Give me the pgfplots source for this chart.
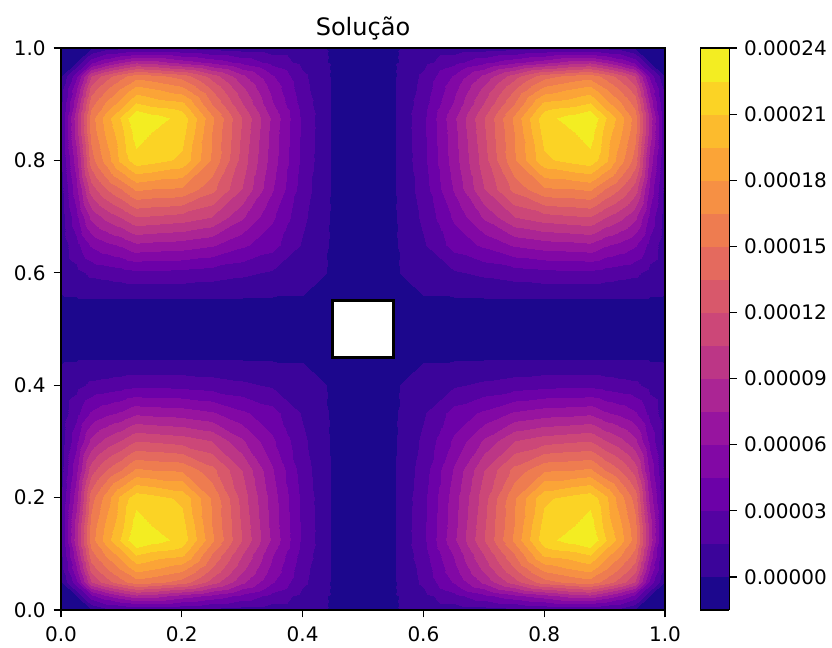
\documentclass[border=0pt]{standalone}
\usepackage{pgfplots}
\usepackage{pgfplotstable}
\usepackage{fontspec}
\setmainfont{DejaVu Sans}
\pgfplotsset{compat=1.18}
\definecolor{bzero}{RGB}{28,7,141}
\pgfplotstableread{
x y z
0 0 -10e-6
0.025 0 -4e-6
0.05 0 0e-6
0.075 0 10e-6
0.1 0 12e-6
0.125 0 15e-6
0.15 0 15e-6
0.2 0 13e-6
0.25 0 9e-6
0.3 0 7e-6
0.35 0 6e-6
0.4 0 5e-6
0.45 0 -2e-6
0 0.025 -4e-6
0.025 0.025 0e-6
0.05 0.025 40e-6
0.075 0.025 58e-6
0.1 0.025 72e-6
0.125 0.025 85e-6
0.15 0.025 82e-6
0.2 0.025 68e-6
0.25 0.025 55e-6
0.3 0.025 40e-6
0.35 0.025 25e-6
0.4 0.025 10e-6
0.45 0.025 -2e-6
0 0.05 0e-6
0.025 0.05 40e-6
0.05 0.05 105e-6
0.075 0.05 128e-6
0.1 0.05 145e-6
0.125 0.05 158e-6
0.15 0.05 155e-6
0.2 0.05 144e-6
0.25 0.05 113e-6
0.3 0.05 79e-6
0.35 0.05 47e-6
0.4 0.05 18e-6
0.45 0.05 -2e-6
0 0.075 10e-6
0.025 0.075 58e-6
0.05 0.075 128e-6
0.075 0.075 150e-6
0.1 0.075 168e-6
0.125 0.075 188e-6
0.15 0.075 183e-6
0.2 0.075 172e-6
0.25 0.075 135e-6
0.3 0.075 95e-6
0.35 0.075 56e-6
0.4 0.075 20e-6
0.45 0.075 -2e-6
0 0.1 12e-6
0.025 0.1 72e-6
0.05 0.1 145e-6
0.075 0.1 168e-6
0.1 0.1 188e-6
0.125 0.1 212e-6
0.15 0.1 205e-6
0.2 0.1 200e-6
0.25 0.1 150e-6
0.3 0.1 106e-6
0.35 0.1 62e-6
0.4 0.1 23e-6
0.45 0.1 -2e-6
0 0.125 15e-6
0.025 0.125 85e-6
0.05 0.125 158e-6
0.075 0.125 188e-6
0.1 0.125 212e-6
0.125 0.125 240e-6
0.15 0.125 232e-6
0.2 0.125 220e-6
0.25 0.125 168e-6
0.3 0.125 120e-6
0.35 0.125 72e-6
0.4 0.125 26e-6
0.45 0.125 -2e-6
0 0.15 15e-6
0.025 0.15 82e-6
0.05 0.15 155e-6
0.075 0.15 183e-6
0.1 0.15 205e-6
0.125 0.15 232e-6
0.15 0.15 225e-6
0.2 0.15 216e-6
0.25 0.15 165e-6
0.3 0.15 118e-6
0.35 0.15 70e-6
0.4 0.15 26e-6
0.45 0.15 -2e-6
0 0.2 13e-6
0.025 0.2 68e-6
0.05 0.2 144e-6
0.075 0.2 172e-6
0.1 0.2 200e-6
0.125 0.2 220e-6
0.15 0.2 216e-6
0.2 0.2 207e-6
0.25 0.2 163e-6
0.3 0.2 114e-6
0.35 0.2 68e-6
0.4 0.2 25e-6
0.45 0.2 -2e-6
0 0.25 9e-6
0.025 0.25 55e-6
0.05 0.25 113e-6
0.075 0.25 135e-6
0.1 0.25 150e-6
0.125 0.25 168e-6
0.15 0.25 165e-6
0.2 0.25 163e-6
0.25 0.25 140e-6
0.3 0.25 105e-6
0.35 0.25 62e-6
0.4 0.25 22e-6
0.45 0.25 -2e-6
0 0.3 7e-6
0.025 0.3 40e-6
0.05 0.3 79e-6
0.075 0.3 95e-6
0.1 0.3 106e-6
0.125 0.3 120e-6
0.15 0.3 118e-6
0.2 0.3 114e-6
0.25 0.3 105e-6
0.3 0.3 78e-6
0.35 0.3 48e-6
0.4 0.3 18e-6
0.45 0.3 -2e-6
0 0.35 6e-6
0.025 0.35 25e-6
0.05 0.35 47e-6
0.075 0.35 56e-6
0.1 0.35 62e-6
0.125 0.35 72e-6
0.15 0.35 70e-6
0.2 0.35 68e-6
0.25 0.35 62e-6
0.3 0.35 48e-6
0.35 0.35 36e-6
0.4 0.35 13e-6
0.45 0.35 -2e-6
0 0.4 5e-6
0.025 0.4 10e-6
0.05 0.4 18e-6
0.075 0.4 20e-6
0.1 0.4 23e-6
0.125 0.4 26e-6
0.15 0.4 26e-6
0.2 0.4 25e-6
0.25 0.4 22e-6
0.3 0.4 18e-6
0.35 0.4 13e-6
0.4 0.4 8e-6
0.45 0.4 -2e-6
0 0.45 -2e-6
0.025 0.45 -2e-6
0.05 0.45 -2e-6
0.075 0.45 -2e-6
0.1 0.45 -2e-6
0.125 0.45 -2e-6
0.15 0.45 -2e-6
0.2 0.45 -2e-6
0.25 0.45 -2e-6
0.3 0.45 -2e-6
0.35 0.45 -2e-6
0.4 0.45 -2e-6
0.45 0.45 -2e-6
}\Q
\begin{document}
\begin{tikzpicture}
\useasboundingbox (0,0) rectangle (624pt,485.25pt);
\begin{axis}[
  at={(45.75pt,27.75pt)}, anchor=south west,
  scale only axis, width=453pt, height=421.5pt,
  xmin=0, xmax=1, ymin=0, ymax=1,
  enlargelimits=false,
  axis background/.style={fill=bzero},
  axis line style={line width=0.87pt},
  tick style={line width=0.87pt, black},
  major tick length=5.5pt,
  tick align=outside, xtick pos=bottom, ytick pos=left,
  xtick={0,0.2,0.4,0.6,0.8,1}, xticklabels={0.0,0.2,0.4,0.6,0.8,1.0},
  ytick={0,0.2,0.4,0.6,0.8,1}, yticklabels={0.0,0.2,0.4,0.6,0.8,1.0},
  tick label style={font=\fontsize{15}{18}\selectfont},
  xticklabel style={yshift=-3.5pt},
  yticklabel style={xshift=-2.5pt},
  title={Solução},
  title style={font=\fontsize{18}{22}\selectfont, yshift=-4pt},
  axis on top,
  point meta min=-0.000015, point meta max=0.00024,
  colormap={plasmabands}{rgb255=(28,7,141) rgb255=(59,4,154) rgb255=(84,2,162) rgb255=(108,1,168) rgb255=(130,8,165) rgb255=(151,20,159) rgb255=(171,37,148) rgb255=(188,54,134) rgb255=(204,71,120) rgb255=(216,88,107) rgb255=(228,106,94) rgb255=(238,124,80) rgb255=(246,144,68) rgb255=(251,164,55) rgb255=(252,187,45) rgb255=(251,211,37) rgb255=(243,237,34)},
  colormap access=piecewise constant,
  colorbar,
  colorbar style={
    at={(parent axis.north east)}, anchor=north west, xshift=18pt,
    width=21.75pt, height=421.5pt,
    ytick={0,0.00003,0.00006,0.00009,0.00012,0.00015,0.00018,0.00021,0.00024},
    yticklabels={0.00000,0.00003,0.00006,0.00009,0.00012,0.00015,0.00018,0.00021,0.00024},
    scaled y ticks=false,
    tick label style={font=\fontsize{15}{18}\selectfont},
    yticklabel style={xshift=2pt},
    axis line style={line width=0.87pt},
    tick style={line width=0.87pt, black},
    major tick length=5.5pt,
    tick align=outside, ytick pos=right, yticklabel pos=right,
  },
]
\addplot[surf, shader=interp, mesh/cols=13, point meta=\thisrow{z}] table[x=x, y=y] {\Q};
\addplot[surf, shader=interp, mesh/cols=13, point meta=\thisrow{z}] table[x expr=1-\thisrow{x}, y=y] {\Q};
\addplot[surf, shader=interp, mesh/cols=13, point meta=\thisrow{z}] table[x=x, y expr=1-\thisrow{y}] {\Q};
\addplot[surf, shader=interp, mesh/cols=13, point meta=\thisrow{z}] table[x expr=1-\thisrow{x}, y expr=1-\thisrow{y}] {\Q};
\addplot[fill=white, draw=black, line width=2.25pt] coordinates {(0.45,0.45) (0.55,0.45) (0.55,0.55) (0.45,0.55)} -- cycle;
\end{axis}
\end{tikzpicture}
\end{document}
